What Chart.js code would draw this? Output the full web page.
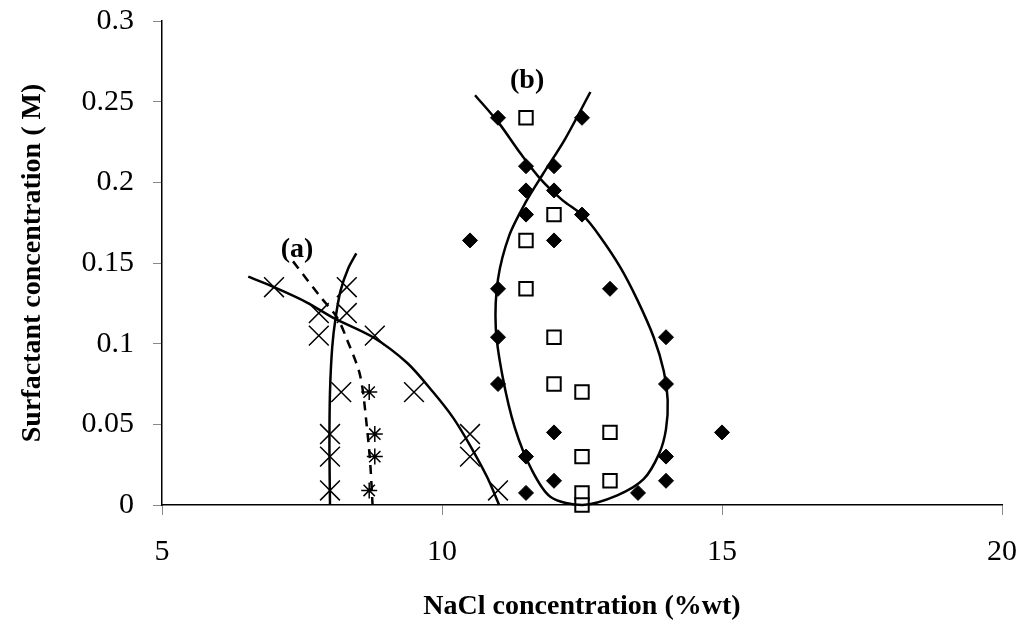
<!DOCTYPE html>
<html>
<head>
<meta charset="utf-8">
<script src="https://cdn.jsdelivr.net/npm/chart.js@4/dist/chart.umd.min.js"></script>
<style>
  body { margin: 0; background: #fff; }
  #wrap { width: 1024px; height: 629px; }
</style>
</head>
<body>
<div id="wrap"><canvas id="phase"></canvas></div>
<script>
// tick labels
const xTicks = [5, 10, 15, 20];
const yTicks = ['0', '0.05', '0.1', '0.15', '0.2', '0.25', '0.3'];

// (a) measured points
const crossX = [7, 7.8, 8.3, 7.8, 8.8, 8.3, 8.2, 9.5, 8, 8, 8, 10.5, 10.5, 11];
const crossY = [0.135, 0.119, 0.119, 0.105, 0.105, 0.135, 0.07, 0.07, 0.044, 0.03, 0.009, 0.044, 0.03, 0.009];
const starX = [8.7, 8.8, 8.8, 8.7];
const starY = [0.07, 0.044, 0.03, 0.009];

// (b) measured points
const diamondX = [11, 12.5, 11.5, 12, 11.5, 12, 11.5, 12.5, 10.5, 12, 11, 13, 11, 14, 11, 14, 12, 15, 11.5, 14, 12, 14, 11.5, 13.5];
const diamondY = [0.24, 0.24, 0.21, 0.21, 0.195, 0.195, 0.18, 0.18, 0.164, 0.164, 0.134, 0.134, 0.104, 0.104, 0.075, 0.075, 0.045, 0.045, 0.03, 0.03, 0.015, 0.015, 0.0075, 0.0075];
const squareX = [11.5, 12, 11.5, 11.5, 12, 12, 12.5, 13, 12.5, 13, 12.5, 12.5];
const squareY = [0.24, 0.18, 0.164, 0.134, 0.104, 0.075, 0.07, 0.045, 0.03, 0.015, 0.0075, 0];

// fitted boundary curves
const curveA1X = [6.54, 7.0, 7.59, 8.06, 8.77, 9.38, 9.84, 10.2, 10.5, 10.81, 11.02];
const curveA1Y = [0.1415, 0.135, 0.1255, 0.116, 0.104, 0.088, 0.07, 0.054, 0.037, 0.017, 0];
const curveA2X = [8.0, 7.99, 8.0, 8.04, 8.1, 8.19, 8.33, 8.47];
const curveA2Y = [0, 0.035, 0.07, 0.098, 0.116, 0.133, 0.147, 0.156];
const curveA3X = [7.34, 7.83, 8.13, 8.31, 8.54, 8.66, 8.72, 8.76];
const curveA3Y = [0.151, 0.129, 0.116, 0.102, 0.08, 0.048, 0.025, 0];
const curveBX = [10.59, 11.01, 11.4, 11.76, 12.15, 12.53, 12.83, 13.19, 13.49, 13.78, 13.96, 14.03, 14.0, 13.88, 13.6, 13.13, 12.51, 11.94, 11.6, 11.3, 11.08, 10.96, 11.0, 11.2, 11.5, 11.8, 12.2, 12.65];
const curveBY = [0.254, 0.237, 0.218, 0.202, 0.189, 0.179, 0.166, 0.147, 0.127, 0.104, 0.083, 0.065, 0.047, 0.032, 0.016, 0.006, 0.0, 0.005, 0.022, 0.048, 0.08, 0.11, 0.14, 0.167, 0.188, 0.205, 0.227, 0.256];

// labels placed in data units
const notes = [
    { text: '(a)', x: 7.41, y: 0.158 },
    { text: '(b)', x: 11.52, y: 0.263 }
];

function pts(xs, ys) {
    return xs.map((x, i) => ({ x: x, y: ys[i] }));
}

function curve(xs, ys, dash) {
    return {
        data: pts(xs, ys),
        showLine: true,
        pointRadius: 0,
        borderColor: '#000',
        borderWidth: 2.5,
        borderDash: dash || [],
        tension: 0.3,
        clip: false
    };
}

function marks(xs, ys, style, r, fill, bw) {
    return {
        data: pts(xs, ys),
        pointStyle: style,
        pointRadius: r,
        pointBackgroundColor: fill,
        pointBorderColor: '#000',
        pointBorderWidth: bw,
        showLine: false,
        clip: false
    };
}

const notePlugin = {
    id: 'notes',
    afterDatasetsDraw(chart) {
        const c = chart.ctx;
        c.save();
        c.font = 'bold 28px "Liberation Serif"';
        c.fillStyle = '#000';
        c.textAlign = 'center';
        c.textBaseline = 'middle';
        notes.forEach(n => {
            c.fillText(n.text, chart.scales.x.getPixelForValue(n.x), chart.scales.y.getPixelForValue(n.y));
        });
        c.restore();
    }
};

const ctx = document.getElementById('phase');
new Chart(ctx, {
    type: 'scatter',
    data: {
        datasets: [
            curve(curveA1X, curveA1Y),
            curve(curveA2X, curveA2Y),
            curve(curveA3X, curveA3Y, [9, 7]),
            curve(curveBX, curveBY),
            marks(crossX, crossY, 'crossRot', 14, '#000', 1.5),
            marks(starX, starY, 'star', 8, '#000', 1.5),
            marks(diamondX, diamondY, 'rectRot', 7.5, '#000', 1),
            marks(squareX, squareY, 'rect', 9.5, '#fff', 2)
        ]
    },
    options: {
        responsive: true,
        maintainAspectRatio: false,
        animation: false,
        layout: { autoPadding: false, padding: { top: 21, right: 22, left: 0, bottom: 0 } },
        plugins: {
            legend: { display: false },
            tooltip: { enabled: false }
        },
        scales: {
            x: {
                type: 'linear',
                min: 5,
                max: 20,
                afterFit: s => { s.height = 124; s.paddingLeft = 0; s.paddingRight = 0; },
                afterBuildTicks: s => { s.ticks = xTicks.map(v => ({ value: v })); },
                grid: { drawOnChartArea: false, tickLength: 10, color: '#888' },
                border: { color: '#000', width: 1.5 },
                ticks: {
                    color: '#000',
                    padding: 19,
                    font: { family: 'Liberation Serif', size: 30 },
                    callback: v => String(v)
                },
                title: {
                    display: true,
                    text: 'NaCl concentration (%wt)',
                    color: '#000',
                    font: { family: 'Liberation Serif', size: 28, weight: 'bold' },
                    padding: { top: 10, bottom: 5 }
                }
            },
            y: {
                min: 0,
                max: 0.3,
                afterFit: s => { s.width = 162; s.paddingTop = 0; s.paddingBottom = 0; },
                afterBuildTicks: s => { s.ticks = yTicks.map(v => ({ value: parseFloat(v) })); },
                grid: { drawOnChartArea: false, tickLength: 9, color: '#888' },
                border: { color: '#000', width: 1.5 },
                ticks: {
                    color: '#000',
                    padding: 19,
                    font: { family: 'Liberation Serif', size: 30 },
                    callback: (v, i) => yTicks[i]
                },
                title: {
                    display: true,
                    text: 'Surfactant concentration ( M)',
                    color: '#000',
                    font: { family: 'Liberation Serif', size: 28, weight: 'bold' },
                    padding: { top: 16, bottom: 0 }
                }
            }
        }
    },
    plugins: [notePlugin]
});
</script>
</body>
</html>
